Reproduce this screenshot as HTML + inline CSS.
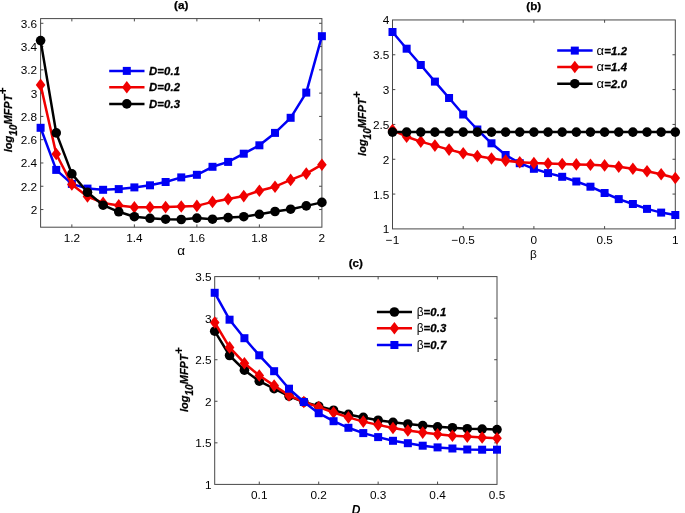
<!DOCTYPE html>
<html><head><meta charset="utf-8"><title>MFPT figure</title>
<style>
html,body{margin:0;padding:0;background:#fff;}
svg{display:block;will-change:transform;}
text{font-family:"Liberation Sans",sans-serif;fill:#000;}
.t{font-size:11.8px;}
.gx{font-size:13.5px;}
.ti{font-size:11.7px;font-weight:bold;stroke:#000;stroke-width:0.25px;}
.yl{font-size:11px;font-weight:bold;font-style:italic;stroke:#000;stroke-width:0.25px;}
.xl{font-size:12px;font-weight:bold;font-style:italic;}
.ss{font-size:10.1px;}
.sp{font-size:12px;stroke:none;}
.lg{font-size:11.3px;font-weight:bold;font-style:italic;stroke:#000;stroke-width:0.3px;letter-spacing:0.15px;}
.sy{font-weight:normal;font-style:normal;font-size:12px;stroke:none;letter-spacing:0;}
.sa{font-weight:normal;font-style:normal;font-size:13px;stroke:none;letter-spacing:0.4px;}
</style></head>
<body>
<svg width="685" height="513" viewBox="0 0 685 513">
<rect width="685" height="513" fill="#fff"/>
<rect x="40.6" y="18.6" width="281.29999999999995" height="208.6" fill="#fff" stroke="#484848" stroke-width="1"/><path d="M71.85555555555555 227.2v-2.8M71.85555555555555 18.6v2.8M134.36666666666665 227.2v-2.8M134.36666666666665 18.6v2.8M196.87777777777774 227.2v-2.8M196.87777777777774 18.6v2.8M259.38888888888886 227.2v-2.8M259.38888888888886 18.6v2.8M40.6 23.3h2.8M321.9 23.3h-2.8M40.6 46.58h2.8M321.9 46.58h-2.8M40.6 69.86h2.8M321.9 69.86h-2.8M40.6 93.14h2.8M321.9 93.14h-2.8M40.6 116.42h2.8M321.9 116.42h-2.8M40.6 139.70000000000002h2.8M321.9 139.70000000000002h-2.8M40.6 162.98000000000002h2.8M321.9 162.98000000000002h-2.8M40.6 186.26000000000002h2.8M321.9 186.26000000000002h-2.8M40.6 209.54000000000002h2.8M321.9 209.54000000000002h-2.8" stroke="#484848" stroke-width="1" fill="none"/>
<polyline points="40.60,127.80 56.23,169.90 71.86,183.90 87.48,188.60 103.11,189.80 118.74,189.10 134.37,187.40 149.99,185.30 165.62,182.00 181.25,177.40 196.88,174.80 212.51,166.80 228.13,161.90 243.76,153.70 259.39,145.30 275.02,132.90 290.64,117.80 306.27,92.60 321.90,36.20" fill="none" stroke="#0000f5" stroke-width="2.5" stroke-linejoin="round"/><rect x="36.60" y="123.80" width="8.0" height="8.0" fill="#0000f5"/><rect x="52.23" y="165.90" width="8.0" height="8.0" fill="#0000f5"/><rect x="67.86" y="179.90" width="8.0" height="8.0" fill="#0000f5"/><rect x="83.48" y="184.60" width="8.0" height="8.0" fill="#0000f5"/><rect x="99.11" y="185.80" width="8.0" height="8.0" fill="#0000f5"/><rect x="114.74" y="185.10" width="8.0" height="8.0" fill="#0000f5"/><rect x="130.37" y="183.40" width="8.0" height="8.0" fill="#0000f5"/><rect x="145.99" y="181.30" width="8.0" height="8.0" fill="#0000f5"/><rect x="161.62" y="178.00" width="8.0" height="8.0" fill="#0000f5"/><rect x="177.25" y="173.40" width="8.0" height="8.0" fill="#0000f5"/><rect x="192.88" y="170.80" width="8.0" height="8.0" fill="#0000f5"/><rect x="208.51" y="162.80" width="8.0" height="8.0" fill="#0000f5"/><rect x="224.13" y="157.90" width="8.0" height="8.0" fill="#0000f5"/><rect x="239.76" y="149.70" width="8.0" height="8.0" fill="#0000f5"/><rect x="255.39" y="141.30" width="8.0" height="8.0" fill="#0000f5"/><rect x="271.02" y="128.90" width="8.0" height="8.0" fill="#0000f5"/><rect x="286.64" y="113.80" width="8.0" height="8.0" fill="#0000f5"/><rect x="302.27" y="88.60" width="8.0" height="8.0" fill="#0000f5"/><rect x="317.90" y="32.20" width="8.0" height="8.0" fill="#0000f5"/>
<polyline points="40.60,84.90 56.23,154.00 71.86,184.40 87.48,196.50 103.11,202.90 118.74,205.40 134.37,207.30 149.99,207.30 165.62,207.10 181.25,206.50 196.88,205.90 212.51,201.90 228.13,199.10 243.76,196.10 259.39,190.70 275.02,186.70 290.64,179.90 306.27,173.60 321.90,164.70" fill="none" stroke="#f00000" stroke-width="2.5" stroke-linejoin="round"/><path d="M40.60 78.60L45.40 84.90L40.60 91.20L35.80 84.90Z" fill="#f00000"/><path d="M56.23 147.70L61.03 154.00L56.23 160.30L51.43 154.00Z" fill="#f00000"/><path d="M71.86 178.10L76.66 184.40L71.86 190.70L67.06 184.40Z" fill="#f00000"/><path d="M87.48 190.20L92.28 196.50L87.48 202.80L82.68 196.50Z" fill="#f00000"/><path d="M103.11 196.60L107.91 202.90L103.11 209.20L98.31 202.90Z" fill="#f00000"/><path d="M118.74 199.10L123.54 205.40L118.74 211.70L113.94 205.40Z" fill="#f00000"/><path d="M134.37 201.00L139.17 207.30L134.37 213.60L129.57 207.30Z" fill="#f00000"/><path d="M149.99 201.00L154.79 207.30L149.99 213.60L145.19 207.30Z" fill="#f00000"/><path d="M165.62 200.80L170.42 207.10L165.62 213.40L160.82 207.10Z" fill="#f00000"/><path d="M181.25 200.20L186.05 206.50L181.25 212.80L176.45 206.50Z" fill="#f00000"/><path d="M196.88 199.60L201.68 205.90L196.88 212.20L192.08 205.90Z" fill="#f00000"/><path d="M212.51 195.60L217.31 201.90L212.51 208.20L207.71 201.90Z" fill="#f00000"/><path d="M228.13 192.80L232.93 199.10L228.13 205.40L223.33 199.10Z" fill="#f00000"/><path d="M243.76 189.80L248.56 196.10L243.76 202.40L238.96 196.10Z" fill="#f00000"/><path d="M259.39 184.40L264.19 190.70L259.39 197.00L254.59 190.70Z" fill="#f00000"/><path d="M275.02 180.40L279.82 186.70L275.02 193.00L270.22 186.70Z" fill="#f00000"/><path d="M290.64 173.60L295.44 179.90L290.64 186.20L285.84 179.90Z" fill="#f00000"/><path d="M306.27 167.30L311.07 173.60L306.27 179.90L301.47 173.60Z" fill="#f00000"/><path d="M321.90 158.40L326.70 164.70L321.90 171.00L317.10 164.70Z" fill="#f00000"/>
<polyline points="40.60,40.60 56.23,132.90 71.86,173.90 87.48,192.30 103.11,205.20 118.74,211.80 134.37,216.70 149.99,218.30 165.62,219.20 181.25,219.50 196.88,218.10 212.51,219.20 228.13,217.60 243.76,216.70 259.39,214.30 275.02,211.50 290.64,209.20 306.27,205.90 321.90,202.40" fill="none" stroke="#000000" stroke-width="2.5" stroke-linejoin="round"/><circle cx="40.60" cy="40.60" r="4.8" fill="#000000"/><circle cx="56.23" cy="132.90" r="4.8" fill="#000000"/><circle cx="71.86" cy="173.90" r="4.8" fill="#000000"/><circle cx="87.48" cy="192.30" r="4.8" fill="#000000"/><circle cx="103.11" cy="205.20" r="4.8" fill="#000000"/><circle cx="118.74" cy="211.80" r="4.8" fill="#000000"/><circle cx="134.37" cy="216.70" r="4.8" fill="#000000"/><circle cx="149.99" cy="218.30" r="4.8" fill="#000000"/><circle cx="165.62" cy="219.20" r="4.8" fill="#000000"/><circle cx="181.25" cy="219.50" r="4.8" fill="#000000"/><circle cx="196.88" cy="218.10" r="4.8" fill="#000000"/><circle cx="212.51" cy="219.20" r="4.8" fill="#000000"/><circle cx="228.13" cy="217.60" r="4.8" fill="#000000"/><circle cx="243.76" cy="216.70" r="4.8" fill="#000000"/><circle cx="259.39" cy="214.30" r="4.8" fill="#000000"/><circle cx="275.02" cy="211.50" r="4.8" fill="#000000"/><circle cx="290.64" cy="209.20" r="4.8" fill="#000000"/><circle cx="306.27" cy="205.90" r="4.8" fill="#000000"/><circle cx="321.90" cy="202.40" r="4.8" fill="#000000"/>
<text x="37.2" y="27.8" text-anchor="end" class="t">3.6</text><text x="37.2" y="51.08" text-anchor="end" class="t">3.4</text><text x="37.2" y="74.36" text-anchor="end" class="t">3.2</text><text x="37.2" y="97.64" text-anchor="end" class="t">3</text><text x="37.2" y="120.92" text-anchor="end" class="t">2.8</text><text x="37.2" y="144.20000000000002" text-anchor="end" class="t">2.6</text><text x="37.2" y="167.48000000000002" text-anchor="end" class="t">2.4</text><text x="37.2" y="190.76000000000002" text-anchor="end" class="t">2.2</text><text x="37.2" y="214.04000000000002" text-anchor="end" class="t">2</text>
<text x="71.85555555555555" y="242" text-anchor="middle" class="t">1.2</text><text x="134.36666666666665" y="242" text-anchor="middle" class="t">1.4</text><text x="196.87777777777774" y="242" text-anchor="middle" class="t">1.6</text><text x="259.38888888888886" y="242" text-anchor="middle" class="t">1.8</text><text x="321.9" y="242" text-anchor="middle" class="t">2</text>
<text x="181.2" y="254.7" text-anchor="middle" class="gx">α</text>
<text x="181.2" y="9.4" text-anchor="middle" class="ti">(a)</text>
<text transform="translate(11.7 152.3) rotate(-90)" class="yl">log<tspan class="ss" dy="5.4">10</tspan><tspan dy="-5.4">MFPT</tspan><tspan class="sp" dy="-4.9">+</tspan></text>
<line x1="109.2" y1="70.9" x2="144.5" y2="70.9" stroke="#0000f5" stroke-width="2.5"/><rect x="122.80" y="66.90" width="8.0" height="8.0" fill="#0000f5"/><text x="149.0" y="74.80000000000001" class="lg">D=0.1</text><line x1="109.2" y1="87.3" x2="144.5" y2="87.3" stroke="#f00000" stroke-width="2.5"/><path d="M126.80 81.00L131.60 87.30L126.80 93.60L122.00 87.30Z" fill="#f00000"/><text x="149.0" y="91.2" class="lg">D=0.2</text><line x1="109.2" y1="103.9" x2="144.5" y2="103.9" stroke="#000000" stroke-width="2.5"/><circle cx="126.80" cy="103.90" r="4.8" fill="#000000"/><text x="149.0" y="107.80000000000001" class="lg">D=0.3</text>
<rect x="392.5" y="19.95" width="282.79999999999995" height="208.95000000000002" fill="#fff" stroke="#484848" stroke-width="1"/><path d="M463.2 228.9v-2.8M463.2 19.95v2.8M533.9 228.9v-2.8M533.9 19.95v2.8M604.5999999999999 228.9v-2.8M604.5999999999999 19.95v2.8M392.5 54.775000000000006h2.8M675.3 54.775000000000006h-2.8M392.5 89.60000000000001h2.8M675.3 89.60000000000001h-2.8M392.5 124.42500000000001h2.8M675.3 124.42500000000001h-2.8M392.5 159.25h2.8M675.3 159.25h-2.8M392.5 194.075h2.8M675.3 194.075h-2.8" stroke="#484848" stroke-width="1" fill="none"/>
<polyline points="392.50,32.00 406.64,48.70 420.78,65.00 434.92,81.60 449.06,98.00 463.20,114.50 477.34,129.50 491.48,143.30 505.62,155.00 519.76,163.20 533.90,168.80 548.04,173.10 562.18,176.80 576.32,181.50 590.46,186.70 604.60,193.00 618.74,199.10 632.88,204.00 647.02,208.90 661.16,212.60 675.30,215.00" fill="none" stroke="#0000f5" stroke-width="2.5" stroke-linejoin="round"/><rect x="388.50" y="28.00" width="8.0" height="8.0" fill="#0000f5"/><rect x="402.64" y="44.70" width="8.0" height="8.0" fill="#0000f5"/><rect x="416.78" y="61.00" width="8.0" height="8.0" fill="#0000f5"/><rect x="430.92" y="77.60" width="8.0" height="8.0" fill="#0000f5"/><rect x="445.06" y="94.00" width="8.0" height="8.0" fill="#0000f5"/><rect x="459.20" y="110.50" width="8.0" height="8.0" fill="#0000f5"/><rect x="473.34" y="125.50" width="8.0" height="8.0" fill="#0000f5"/><rect x="487.48" y="139.30" width="8.0" height="8.0" fill="#0000f5"/><rect x="501.62" y="151.00" width="8.0" height="8.0" fill="#0000f5"/><rect x="515.76" y="159.20" width="8.0" height="8.0" fill="#0000f5"/><rect x="529.90" y="164.80" width="8.0" height="8.0" fill="#0000f5"/><rect x="544.04" y="169.10" width="8.0" height="8.0" fill="#0000f5"/><rect x="558.18" y="172.80" width="8.0" height="8.0" fill="#0000f5"/><rect x="572.32" y="177.50" width="8.0" height="8.0" fill="#0000f5"/><rect x="586.46" y="182.70" width="8.0" height="8.0" fill="#0000f5"/><rect x="600.60" y="189.00" width="8.0" height="8.0" fill="#0000f5"/><rect x="614.74" y="195.10" width="8.0" height="8.0" fill="#0000f5"/><rect x="628.88" y="200.00" width="8.0" height="8.0" fill="#0000f5"/><rect x="643.02" y="204.90" width="8.0" height="8.0" fill="#0000f5"/><rect x="657.16" y="208.60" width="8.0" height="8.0" fill="#0000f5"/><rect x="671.30" y="211.00" width="8.0" height="8.0" fill="#0000f5"/>
<polyline points="392.50,130.00 406.64,136.70 420.78,141.60 434.92,145.60 449.06,149.60 463.20,153.30 477.34,156.10 491.48,158.50 505.62,160.60 519.76,162.20 533.90,163.10 548.04,163.50 562.18,164.00 576.32,164.40 590.46,164.70 604.60,165.40 618.74,166.80 632.88,168.70 647.02,171.20 661.16,174.30 675.30,178.00" fill="none" stroke="#f00000" stroke-width="2.5" stroke-linejoin="round"/><path d="M392.50 123.70L397.30 130.00L392.50 136.30L387.70 130.00Z" fill="#f00000"/><path d="M406.64 130.40L411.44 136.70L406.64 143.00L401.84 136.70Z" fill="#f00000"/><path d="M420.78 135.30L425.58 141.60L420.78 147.90L415.98 141.60Z" fill="#f00000"/><path d="M434.92 139.30L439.72 145.60L434.92 151.90L430.12 145.60Z" fill="#f00000"/><path d="M449.06 143.30L453.86 149.60L449.06 155.90L444.26 149.60Z" fill="#f00000"/><path d="M463.20 147.00L468.00 153.30L463.20 159.60L458.40 153.30Z" fill="#f00000"/><path d="M477.34 149.80L482.14 156.10L477.34 162.40L472.54 156.10Z" fill="#f00000"/><path d="M491.48 152.20L496.28 158.50L491.48 164.80L486.68 158.50Z" fill="#f00000"/><path d="M505.62 154.30L510.42 160.60L505.62 166.90L500.82 160.60Z" fill="#f00000"/><path d="M519.76 155.90L524.56 162.20L519.76 168.50L514.96 162.20Z" fill="#f00000"/><path d="M533.90 156.80L538.70 163.10L533.90 169.40L529.10 163.10Z" fill="#f00000"/><path d="M548.04 157.20L552.84 163.50L548.04 169.80L543.24 163.50Z" fill="#f00000"/><path d="M562.18 157.70L566.98 164.00L562.18 170.30L557.38 164.00Z" fill="#f00000"/><path d="M576.32 158.10L581.12 164.40L576.32 170.70L571.52 164.40Z" fill="#f00000"/><path d="M590.46 158.40L595.26 164.70L590.46 171.00L585.66 164.70Z" fill="#f00000"/><path d="M604.60 159.10L609.40 165.40L604.60 171.70L599.80 165.40Z" fill="#f00000"/><path d="M618.74 160.50L623.54 166.80L618.74 173.10L613.94 166.80Z" fill="#f00000"/><path d="M632.88 162.40L637.68 168.70L632.88 175.00L628.08 168.70Z" fill="#f00000"/><path d="M647.02 164.90L651.82 171.20L647.02 177.50L642.22 171.20Z" fill="#f00000"/><path d="M661.16 168.00L665.96 174.30L661.16 180.60L656.36 174.30Z" fill="#f00000"/><path d="M675.30 171.70L680.10 178.00L675.30 184.30L670.50 178.00Z" fill="#f00000"/>
<polyline points="392.50,132.10 406.64,132.10 420.78,132.10 434.92,132.10 449.06,132.10 463.20,132.10 477.34,132.10 491.48,132.10 505.62,132.10 519.76,132.10 533.90,132.10 548.04,132.10 562.18,132.10 576.32,132.10 590.46,132.10 604.60,132.10 618.74,132.10 632.88,132.10 647.02,132.10 661.16,132.10 675.30,132.10" fill="none" stroke="#000000" stroke-width="2.5" stroke-linejoin="round"/><circle cx="392.50" cy="132.10" r="4.8" fill="#000000"/><circle cx="406.64" cy="132.10" r="4.8" fill="#000000"/><circle cx="420.78" cy="132.10" r="4.8" fill="#000000"/><circle cx="434.92" cy="132.10" r="4.8" fill="#000000"/><circle cx="449.06" cy="132.10" r="4.8" fill="#000000"/><circle cx="463.20" cy="132.10" r="4.8" fill="#000000"/><circle cx="477.34" cy="132.10" r="4.8" fill="#000000"/><circle cx="491.48" cy="132.10" r="4.8" fill="#000000"/><circle cx="505.62" cy="132.10" r="4.8" fill="#000000"/><circle cx="519.76" cy="132.10" r="4.8" fill="#000000"/><circle cx="533.90" cy="132.10" r="4.8" fill="#000000"/><circle cx="548.04" cy="132.10" r="4.8" fill="#000000"/><circle cx="562.18" cy="132.10" r="4.8" fill="#000000"/><circle cx="576.32" cy="132.10" r="4.8" fill="#000000"/><circle cx="590.46" cy="132.10" r="4.8" fill="#000000"/><circle cx="604.60" cy="132.10" r="4.8" fill="#000000"/><circle cx="618.74" cy="132.10" r="4.8" fill="#000000"/><circle cx="632.88" cy="132.10" r="4.8" fill="#000000"/><circle cx="647.02" cy="132.10" r="4.8" fill="#000000"/><circle cx="661.16" cy="132.10" r="4.8" fill="#000000"/><circle cx="675.30" cy="132.10" r="4.8" fill="#000000"/>
<text x="389.4" y="24.45" text-anchor="end" class="t">4</text><text x="389.4" y="59.275000000000006" text-anchor="end" class="t">3.5</text><text x="389.4" y="94.10000000000001" text-anchor="end" class="t">3</text><text x="389.4" y="128.925" text-anchor="end" class="t">2.5</text><text x="389.4" y="163.75" text-anchor="end" class="t">2</text><text x="389.4" y="198.575" text-anchor="end" class="t">1.5</text><text x="389.4" y="233.4" text-anchor="end" class="t">1</text>
<text x="392.5" y="243.5" text-anchor="middle" class="t">−1</text><text x="463.2" y="243.5" text-anchor="middle" class="t">−0.5</text><text x="533.9" y="243.5" text-anchor="middle" class="t">0</text><text x="604.5999999999999" y="243.5" text-anchor="middle" class="t">0.5</text><text x="675.3" y="243.5" text-anchor="middle" class="t">1</text>
<text x="533.5" y="257.5" text-anchor="middle" class="t">β</text>
<text x="533.8" y="10.2" text-anchor="middle" class="ti">(b)</text>
<text transform="translate(365.6 155.9) rotate(-90)" class="yl">log<tspan class="ss" dy="5.4">10</tspan><tspan dy="-5.4">MFPT</tspan><tspan class="sp" dy="-4.9">+</tspan></text>
<line x1="557.2" y1="50.6" x2="592.6" y2="50.6" stroke="#0000f5" stroke-width="2.5"/><rect x="570.80" y="46.60" width="8.0" height="8.0" fill="#0000f5"/><text x="596.4" y="54.5" class="lg"><tspan class="sa">α</tspan>=1.2</text><line x1="557.2" y1="67" x2="592.6" y2="67" stroke="#f00000" stroke-width="2.5"/><path d="M574.80 60.70L579.60 67.00L574.80 73.30L570.00 67.00Z" fill="#f00000"/><text x="596.4" y="70.9" class="lg"><tspan class="sa">α</tspan>=1.4</text><line x1="557.2" y1="83.7" x2="592.6" y2="83.7" stroke="#000000" stroke-width="2.5"/><circle cx="574.80" cy="83.70" r="4.8" fill="#000000"/><text x="596.4" y="87.60000000000001" class="lg"><tspan class="sa">α</tspan>=2.0</text>
<rect x="214.7" y="276.6" width="282.3" height="207.79999999999995" fill="#fff" stroke="#484848" stroke-width="1"/><path d="M259.2736842105263 484.4v-2.8M259.2736842105263 276.6v2.8M318.7052631578947 484.4v-2.8M318.7052631578947 276.6v2.8M378.13684210526316 484.4v-2.8M378.13684210526316 276.6v2.8M437.5684210526316 484.4v-2.8M437.5684210526316 276.6v2.8M214.7 318.16h2.8M497.0 318.16h-2.8M214.7 359.72h2.8M497.0 359.72h-2.8M214.7 401.28h2.8M497.0 401.28h-2.8M214.7 442.84h2.8M497.0 442.84h-2.8" stroke="#484848" stroke-width="1" fill="none"/>
<polyline points="214.70,331.20 229.56,355.50 244.42,370.20 259.27,381.20 274.13,388.70 288.99,396.10 303.85,402.00 318.71,406.20 333.56,410.20 348.42,414.40 363.28,417.40 378.14,420.20 392.99,422.30 407.85,424.00 422.71,425.60 437.57,426.80 452.43,427.70 467.28,428.70 482.14,429.10 497.00,429.60" fill="none" stroke="#000000" stroke-width="2.5" stroke-linejoin="round"/><circle cx="214.70" cy="331.20" r="4.8" fill="#000000"/><circle cx="229.56" cy="355.50" r="4.8" fill="#000000"/><circle cx="244.42" cy="370.20" r="4.8" fill="#000000"/><circle cx="259.27" cy="381.20" r="4.8" fill="#000000"/><circle cx="274.13" cy="388.70" r="4.8" fill="#000000"/><circle cx="288.99" cy="396.10" r="4.8" fill="#000000"/><circle cx="303.85" cy="402.00" r="4.8" fill="#000000"/><circle cx="318.71" cy="406.20" r="4.8" fill="#000000"/><circle cx="333.56" cy="410.20" r="4.8" fill="#000000"/><circle cx="348.42" cy="414.40" r="4.8" fill="#000000"/><circle cx="363.28" cy="417.40" r="4.8" fill="#000000"/><circle cx="378.14" cy="420.20" r="4.8" fill="#000000"/><circle cx="392.99" cy="422.30" r="4.8" fill="#000000"/><circle cx="407.85" cy="424.00" r="4.8" fill="#000000"/><circle cx="422.71" cy="425.60" r="4.8" fill="#000000"/><circle cx="437.57" cy="426.80" r="4.8" fill="#000000"/><circle cx="452.43" cy="427.70" r="4.8" fill="#000000"/><circle cx="467.28" cy="428.70" r="4.8" fill="#000000"/><circle cx="482.14" cy="429.10" r="4.8" fill="#000000"/><circle cx="497.00" cy="429.60" r="4.8" fill="#000000"/>
<polyline points="214.70,322.50 229.56,347.40 244.42,363.20 259.27,375.50 274.13,385.60 288.99,395.40 303.85,402.00 318.71,407.10 333.56,412.50 348.42,417.40 363.28,421.60 378.14,424.90 392.99,428.00 407.85,430.50 422.71,432.60 437.57,434.30 452.43,435.70 467.28,436.60 482.14,437.50 497.00,438.20" fill="none" stroke="#f00000" stroke-width="2.5" stroke-linejoin="round"/><path d="M214.70 316.20L219.50 322.50L214.70 328.80L209.90 322.50Z" fill="#f00000"/><path d="M229.56 341.10L234.36 347.40L229.56 353.70L224.76 347.40Z" fill="#f00000"/><path d="M244.42 356.90L249.22 363.20L244.42 369.50L239.62 363.20Z" fill="#f00000"/><path d="M259.27 369.20L264.07 375.50L259.27 381.80L254.47 375.50Z" fill="#f00000"/><path d="M274.13 379.30L278.93 385.60L274.13 391.90L269.33 385.60Z" fill="#f00000"/><path d="M288.99 389.10L293.79 395.40L288.99 401.70L284.19 395.40Z" fill="#f00000"/><path d="M303.85 395.70L308.65 402.00L303.85 408.30L299.05 402.00Z" fill="#f00000"/><path d="M318.71 400.80L323.51 407.10L318.71 413.40L313.91 407.10Z" fill="#f00000"/><path d="M333.56 406.20L338.36 412.50L333.56 418.80L328.76 412.50Z" fill="#f00000"/><path d="M348.42 411.10L353.22 417.40L348.42 423.70L343.62 417.40Z" fill="#f00000"/><path d="M363.28 415.30L368.08 421.60L363.28 427.90L358.48 421.60Z" fill="#f00000"/><path d="M378.14 418.60L382.94 424.90L378.14 431.20L373.34 424.90Z" fill="#f00000"/><path d="M392.99 421.70L397.79 428.00L392.99 434.30L388.19 428.00Z" fill="#f00000"/><path d="M407.85 424.20L412.65 430.50L407.85 436.80L403.05 430.50Z" fill="#f00000"/><path d="M422.71 426.30L427.51 432.60L422.71 438.90L417.91 432.60Z" fill="#f00000"/><path d="M437.57 428.00L442.37 434.30L437.57 440.60L432.77 434.30Z" fill="#f00000"/><path d="M452.43 429.40L457.23 435.70L452.43 442.00L447.63 435.70Z" fill="#f00000"/><path d="M467.28 430.30L472.08 436.60L467.28 442.90L462.48 436.60Z" fill="#f00000"/><path d="M482.14 431.20L486.94 437.50L482.14 443.80L477.34 437.50Z" fill="#f00000"/><path d="M497.00 431.90L501.80 438.20L497.00 444.50L492.20 438.20Z" fill="#f00000"/>
<polyline points="214.70,292.80 229.56,319.70 244.42,338.20 259.27,355.30 274.13,371.20 288.99,388.70 303.85,402.00 318.71,413.20 333.56,421.20 348.42,427.80 363.28,433.10 378.14,437.10 392.99,440.80 407.85,443.20 422.71,445.70 437.57,447.40 452.43,448.50 467.28,449.50 482.14,449.70 497.00,449.70" fill="none" stroke="#0000f5" stroke-width="2.5" stroke-linejoin="round"/><rect x="210.70" y="288.80" width="8.0" height="8.0" fill="#0000f5"/><rect x="225.56" y="315.70" width="8.0" height="8.0" fill="#0000f5"/><rect x="240.42" y="334.20" width="8.0" height="8.0" fill="#0000f5"/><rect x="255.27" y="351.30" width="8.0" height="8.0" fill="#0000f5"/><rect x="270.13" y="367.20" width="8.0" height="8.0" fill="#0000f5"/><rect x="284.99" y="384.70" width="8.0" height="8.0" fill="#0000f5"/><rect x="299.85" y="398.00" width="8.0" height="8.0" fill="#0000f5"/><rect x="314.71" y="409.20" width="8.0" height="8.0" fill="#0000f5"/><rect x="329.56" y="417.20" width="8.0" height="8.0" fill="#0000f5"/><rect x="344.42" y="423.80" width="8.0" height="8.0" fill="#0000f5"/><rect x="359.28" y="429.10" width="8.0" height="8.0" fill="#0000f5"/><rect x="374.14" y="433.10" width="8.0" height="8.0" fill="#0000f5"/><rect x="388.99" y="436.80" width="8.0" height="8.0" fill="#0000f5"/><rect x="403.85" y="439.20" width="8.0" height="8.0" fill="#0000f5"/><rect x="418.71" y="441.70" width="8.0" height="8.0" fill="#0000f5"/><rect x="433.57" y="443.40" width="8.0" height="8.0" fill="#0000f5"/><rect x="448.43" y="444.50" width="8.0" height="8.0" fill="#0000f5"/><rect x="463.28" y="445.50" width="8.0" height="8.0" fill="#0000f5"/><rect x="478.14" y="445.70" width="8.0" height="8.0" fill="#0000f5"/><rect x="493.00" y="445.70" width="8.0" height="8.0" fill="#0000f5"/>
<text x="211.6" y="281.1" text-anchor="end" class="t">3.5</text><text x="211.6" y="322.66" text-anchor="end" class="t">3</text><text x="211.6" y="364.22" text-anchor="end" class="t">2.5</text><text x="211.6" y="405.78" text-anchor="end" class="t">2</text><text x="211.6" y="447.34" text-anchor="end" class="t">1.5</text><text x="211.6" y="488.9" text-anchor="end" class="t">1</text>
<text x="259.2736842105263" y="499" text-anchor="middle" class="t">0.1</text><text x="318.7052631578947" y="499" text-anchor="middle" class="t">0.2</text><text x="378.13684210526316" y="499" text-anchor="middle" class="t">0.3</text><text x="437.5684210526316" y="499" text-anchor="middle" class="t">0.4</text><text x="497.0" y="499" text-anchor="middle" class="t">0.5</text>
<text x="356" y="513.6" text-anchor="middle" class="xl">D</text>
<text x="355.8" y="266.7" text-anchor="middle" class="ti">(c)</text>
<text transform="translate(187.5 412) rotate(-90)" class="yl">log<tspan class="ss" dy="5.4">10</tspan><tspan dy="-5.4">MFPT</tspan><tspan class="sp" dy="-4.9">+</tspan></text>
<line x1="376.9" y1="312" x2="412" y2="312" stroke="#000000" stroke-width="2.5"/><circle cx="394.40" cy="312.00" r="4.8" fill="#000000"/><text x="416.7" y="315.9" class="lg"><tspan class="sy">β</tspan>=0.1</text><line x1="376.9" y1="328.3" x2="412" y2="328.3" stroke="#f00000" stroke-width="2.5"/><path d="M394.40 322.00L399.20 328.30L394.40 334.60L389.60 328.30Z" fill="#f00000"/><text x="416.7" y="332.2" class="lg"><tspan class="sy">β</tspan>=0.3</text><line x1="376.9" y1="345" x2="412" y2="345" stroke="#0000f5" stroke-width="2.5"/><rect x="390.40" y="341.00" width="8.0" height="8.0" fill="#0000f5"/><text x="416.7" y="348.9" class="lg"><tspan class="sy">β</tspan>=0.7</text>
</svg>
</body></html>
